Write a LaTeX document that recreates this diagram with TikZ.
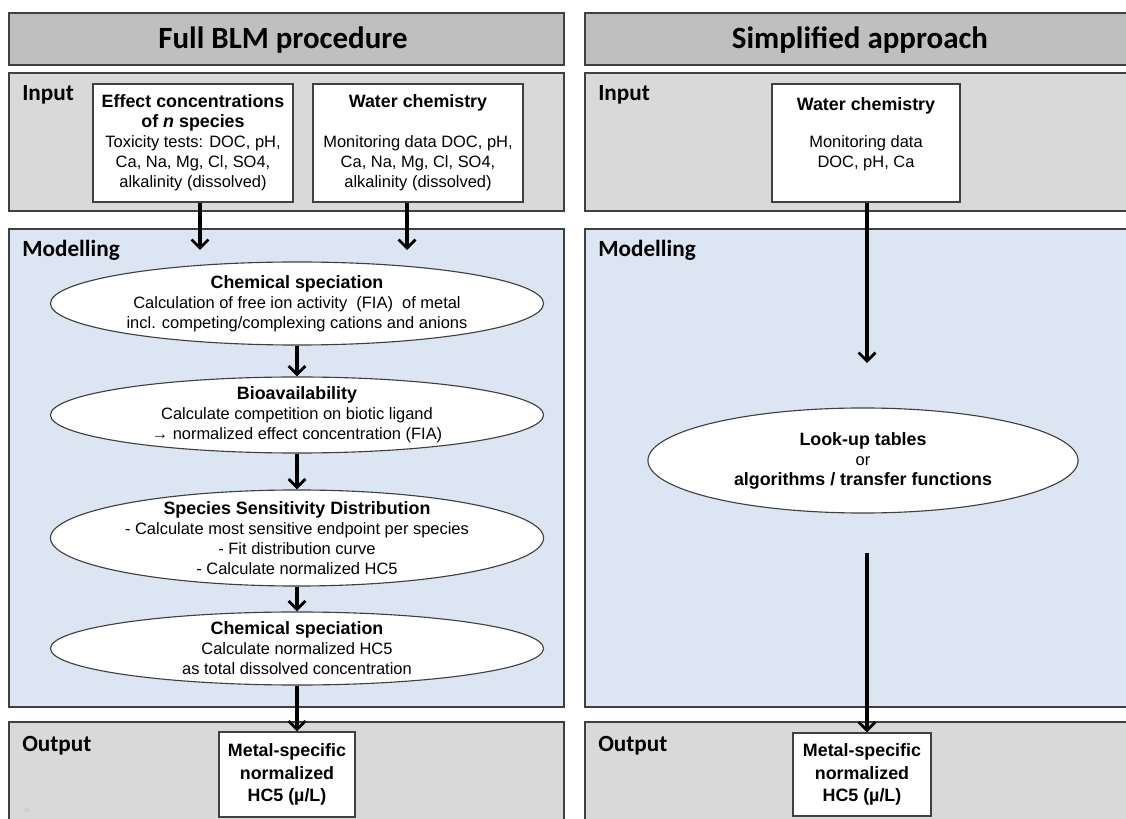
\documentclass[tikz,border=0pt]{standalone}
\usepackage{fontspec}
\setmainfont{Liberation Sans}
\newfontfamily\headfont{Carlito}
\usetikzlibrary{shapes.geometric,arrows.meta}

\definecolor{titlegray}{HTML}{BFBFBF}
\definecolor{panelgray}{HTML}{D9D9D9}
\definecolor{modelblue}{HTML}{DCE6F2}
\definecolor{edgegray}{HTML}{404040}

\newcommand{\hdline}[1]{{\fontsize{12.7}{14.3}\selectfont\bfseries #1}}

\begin{document}
\begin{tikzpicture}[x=0.025cm, y=-0.025cm,
  panel/.style={draw=edgegray, line width=0.9pt},
  heading/.style={font=\headfont\bfseries\fontsize{22}{26}\selectfont, inner sep=0pt},
  lbl/.style={font=\headfont\bfseries\fontsize{16.5}{19}\selectfont, anchor=base west, inner sep=0pt},
  box/.style={draw=edgegray, fill=white, line width=0.8pt, align=center, inner sep=0pt, font=\fontsize{11.7}{14.3}\selectfont},
  oval/.style={ellipse, draw=edgegray, fill=white, line width=0.8pt, align=center, inner xsep=0pt, inner ysep=-14pt, font=\fontsize{11.7}{14.2}\selectfont},
  arr/.style={line width=2.4pt, -{Straight Barb[length=6pt, width=12pt, line width=2pt]}}]

	\useasboundingbox (0,0) rectangle (1126,819);
	\fill[white] (0,0) rectangle (1126,819);

	\draw[panel, fill=titlegray] (9,13) rectangle (564,65) (585,13) rectangle (1140,65);
	\draw[panel, fill=panelgray] (9,73) rectangle (564,211) (585,73) rectangle (1140,211);
	\draw[panel, fill=modelblue] (9,229) rectangle (564,707) (585,229) rectangle (1140,707);
	\draw[panel, fill=panelgray] (9,722) rectangle (564,830) (585,722) rectangle (1140,830);

	\path (283,40) node[heading] (title1) {Full BLM procedure}
	(860,40) node[heading] (title2) {Simplified approach}
	(22,101) node[lbl] (input1) {Input}
	(22,257) node[lbl] (model1) {Modelling}
	(22,751) node[lbl] (output1) {Output}
	(598,101) node[lbl] (input2) {Input}
	(598,257) node[lbl] (model2) {Modelling}
	(598,751) node[lbl] (output2) {Output}
	(23,812) node[font=\fontsize{4}{5}\selectfont, text=black!25, anchor=base west, inner sep=0pt] (mark) {JV};

	\path (193,143) node[box, minimum width=5cm, minimum height=2.95cm] (conc)
		{\hdline{Effect concentrations}\\ \hdline{of \textit{n} species}\\ Toxicity tests: DOC, pH,\\ Ca, Na, Mg, Cl, SO4,\\ alkalinity (dissolved)}
	(418,143) node[box, minimum width=5.25cm, minimum height=2.95cm] (water1)
		{\hdline{Water chemistry}\\[14.3pt] Monitoring data DOC, pH,\\ Ca, Na, Mg, Cl, SO4,\\ alkalinity (dissolved)}
	(866,143) node[box, minimum width=4.7cm, minimum height=2.95cm] (water2)
		{\hdline{Water chemistry}\\[12pt] Monitoring data\\ DOC, pH, Ca\\ \mbox{}};

	\path (297,303.5) node[oval, minimum width=12.325cm, minimum height=2.075cm] (spec1)
		{\hdline{Chemical speciation}\\ Calculation of free ion activity \ (FIA) \ of metal\\ incl. competing/complexing cations and anions}
	(297,415) node[oval, minimum width=12.325cm, minimum height=1.9cm] (bio)
		{\hdline{Bioavailability}\\ Calculate competition on biotic ligand\\ → normalized effect concentration (FIA)}
	(297,538) node[oval, minimum width=12.325cm, minimum height=2.4cm] (ssd)
		{\hdline{Species Sensitivity Distribution}\\ - Calculate most sensitive endpoint per species\\ - Fit distribution curve\\ - Calculate normalized HC5}
	(297,648.5) node[oval, minimum width=12.325cm, minimum height=1.825cm] (spec2)
		{\hdline{Chemical speciation}\\ Calculate normalized HC5\\ as total dissolved concentration}
	(863,460.5) node[oval, minimum width=10.75cm, minimum height=2.625cm] (lookup)
		{\hdline{Look-up tables}\\ or\\ \hdline{algorithms / transfer functions}};

	\path (287,774.5) node[box, minimum width=3.4cm, minimum height=2.125cm, font=\fontsize{12.7}{16.2}\selectfont\bfseries] (hc1)
		{Metal-specific\\ normalized\\ HC5 (µ/L)}
	(862,774.5) node[box, minimum width=3.45cm, minimum height=2.075cm, font=\fontsize{12.7}{16.2}\selectfont\bfseries] (hc2)
		{Metal-specific\\ normalized\\ HC5 (µ/L)};

	\coordinate (c1) at (200,250);
	\coordinate (c2) at (407,250);
	\coordinate (c3) at (867,363);
	\coordinate (c4) at (867,553);

	\draw[arr] (conc.south -| c1) -- (c1);
	\draw[arr] (water1.south -| c2) -- (c2);
	\draw[arr] (spec1.south) -- (bio.north);
	\draw[arr] (bio.south) -- (ssd.north);
	\draw[arr] (ssd.south) -- (spec2.north);
	\draw[arr] (spec2.south) -- (spec2.south |- hc1.north);
	\draw[arr] (water2.south -| c3) -- (c3);
	\draw[arr] (c4) -- (c4 |- hc2.north);
\end{tikzpicture}
\end{document}
